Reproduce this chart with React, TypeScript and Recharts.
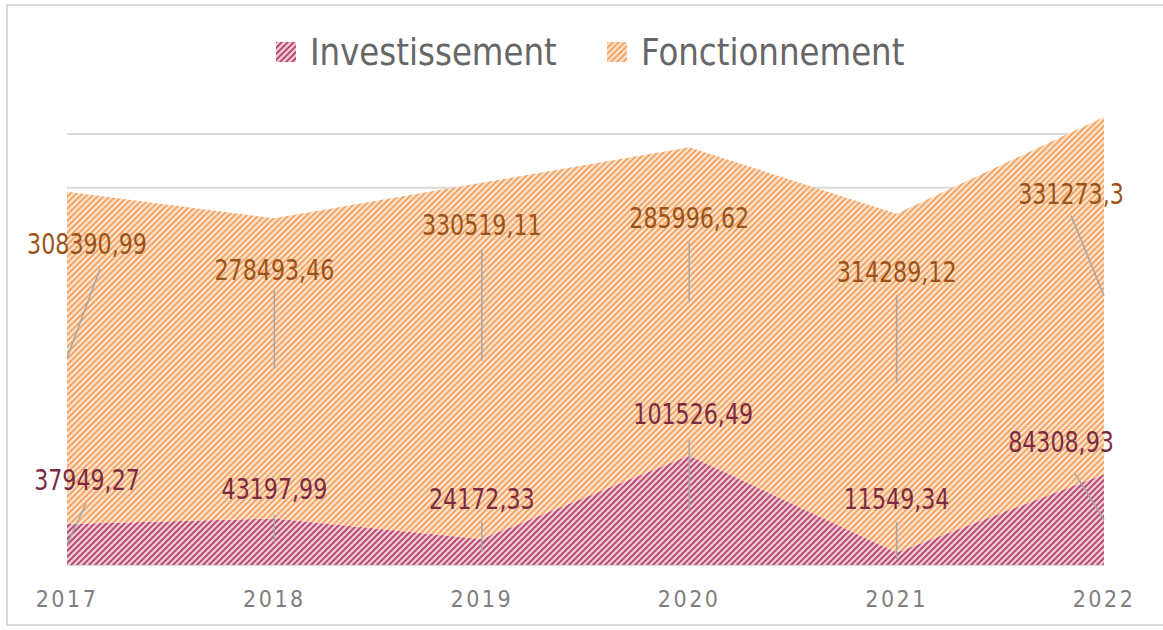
import { ComposedChart, Area, Line, XAxis, YAxis, CartesianGrid, LabelList } from 'recharts';

const years = ['2017', '2018', '2019', '2020', '2021', '2022'];
const investissement = [37949.27, 43197.99, 24172.33, 101526.49, 11549.34, 84308.93];
const fonctionnement = [308390.99, 278493.46, 330519.11, 285996.62, 314289.12, 331273.3];
const gridTicks = [0, 50000, 100000, 150000, 200000, 250000, 300000, 350000, 400000];

const data = years.map((year, i) => ({
    year,
    inv: investissement[i],
    fonc: fonctionnement[i],
    invMid: investissement[i] / 2,
    foncMid: investissement[i] + fonctionnement[i] / 2,
}));

const FONT = '"DejaVu Sans Condensed", "DejaVu Sans", sans-serif';

// label placement relative to the middle of each band: [text dx, text dy, leader dx, leader dy]
const foncPlace = [
    [20, -113, 33, -89],
    [0, -98, 0, -78],
    [0, -135, 0, -111],
    [0, -83, 0, -59],
    [0, -111, 0, -88],
    [-33, -101, -33, -80],
];
const invPlace = [
    [20, -64, 19, -41],
    [0, -52, 0, -27],
    [0, -53, 0, -30],
    [4, -96, 0, -70],
    [0, -59, 0, -37],
    [-43, -77, -29, -46],
];

const fmt = (v: number) => String(v).replace('.', ',');

const makeLabel = (values: number[], place: number[][], color: string) => (props: any) => {
    const { x, y, index } = props;
    const p = place[index];
    return (
        <g key={`lbl-${color}-${index}`}>
            <line x1={x} y1={y} x2={x + p[2]} y2={y + p[3]} stroke="#A6A6A6" strokeWidth={1.5} />
            <text
                transform={`translate(${x + p[0]},${y + p[1]}) scale(0.88,1)`}
                textAnchor="middle"
                dominantBaseline="central"
                fill={color}
                fontSize={28}
                fontFamily={FONT}
            >
                {fmt(values[index])}
            </text>
        </g>
    );
};

const YearTick = (props: any) => {
    const { x, y, payload } = props;
    return (
        <text
            x={x}
            y={y + 26}
            textAnchor="middle"
            dominantBaseline="central"
            fill="#7F7F7F"
            fontSize={23}
            fontFamily={FONT}
            letterSpacing={2.5}
        >
            {payload.value}
        </text>
    );
};

const PatternDefs = ({ prefix }: { prefix: string }) => (
    <defs>
        <pattern id={`${prefix}-inv`} width={6} height={6} patternUnits="userSpaceOnUse">
            <rect width={6} height={6} fill="#F1C7D1" />
            <path d="M0,6 L6,0 M-1,1 L1,-1 M5,7 L7,5" stroke="#B2446B" strokeWidth={1.8} />
        </pattern>
        <pattern id={`${prefix}-fonc`} width={6} height={6} patternUnits="userSpaceOnUse">
            <rect width={6} height={6} fill="#FDE1C8" />
            <path d="M0,6 L6,0 M-1,1 L1,-1 M5,7 L7,5" stroke="#F2A263" strokeWidth={1.8} />
        </pattern>
    </defs>
);

const LegendItem = ({ id, label, left }: { id: string; label: string; left: number }) => (
    <div style={{ position: 'absolute', left, top: 28, display: 'flex', alignItems: 'center' }}>
        <svg width={20} height={20} style={{ marginRight: 14 }}>
            <PatternDefs prefix={`lg-${id}`} />
            <rect width={20} height={20} fill={`url(#lg-${id}-${id})`} />
        </svg>
        <span
            style={{
                fontFamily: FONT,
                fontSize: 38,
                color: '#666666',
                lineHeight: '48px',
                display: 'inline-block',
                transform: 'scaleX(0.95)',
                transformOrigin: 'left center',
                whiteSpace: 'nowrap',
            }}
        >
            {label}
        </span>
    </div>
);

// grid lines at the y ticks, placed with the chart's own y scale
const gridRows = (props: any) => {
    const scale = props.yAxis && props.yAxis.scale;
    const fn = typeof scale === 'function' ? scale : scale && scale.map ? (v: number) => scale.map(v) : null;
    return fn ? gridTicks.map((t) => fn(t)) : [];
};

const App = () => {
    return (
        <div style={{ position: 'absolute', left: 0, top: 0, width: 1163, height: 630, overflow: 'hidden', background: '#fff' }}>
            <div
                style={{
                    position: 'absolute',
                    left: 6,
                    top: 4,
                    width: 1170,
                    height: 622,
                    border: '2px solid #D9D9D9',
                    boxSizing: 'border-box',
                }}
            />
            <LegendItem id="inv" label="Investissement" left={276} />
            <LegendItem id="fonc" label="Fonctionnement" left={607} />
            <div style={{ position: 'absolute', left: 0, top: 0 }}>
                <ComposedChart width={1163} height={630} data={data} margin={{ top: 80, right: 59, left: 67, bottom: 30 }}>
                    <PatternDefs prefix="ch" />
                    <CartesianGrid
                        vertical={false}
                        stroke="#D9D9D9"
                        strokeWidth={2}
                        horizontalCoordinatesGenerator={gridRows}
                    />
                    <XAxis dataKey="year" axisLine={false} tickLine={false} height={35} tick={<YearTick />} interval={0} />
                    <YAxis
                        width={0}
                        tick={false}
                        axisLine={false}
                        tickLine={false}
                        domain={[0, 450000]}
                        ticks={gridTicks}
                        allowDataOverflow
                    />
                    <Area
                        type="linear"
                        dataKey="inv"
                        stackId="a"
                        stroke="none"
                        fill="url(#ch-inv)"
                        fillOpacity={1}
                        isAnimationActive={false}
                    />
                    <Area
                        type="linear"
                        dataKey="fonc"
                        stackId="a"
                        stroke="none"
                        fill="url(#ch-fonc)"
                        fillOpacity={1}
                        isAnimationActive={false}
                    />
                    <Line dataKey="invMid" stroke="none" dot={false} activeDot={false} isAnimationActive={false}>
                        <LabelList dataKey="invMid" content={makeLabel(investissement, invPlace, '#7A2B42')} />
                    </Line>
                    <Line dataKey="foncMid" stroke="none" dot={false} activeDot={false} isAnimationActive={false}>
                        <LabelList dataKey="foncMid" content={makeLabel(fonctionnement, foncPlace, '#9A5318')} />
                    </Line>
                </ComposedChart>
            </div>
        </div>
    );
};

export default App;
